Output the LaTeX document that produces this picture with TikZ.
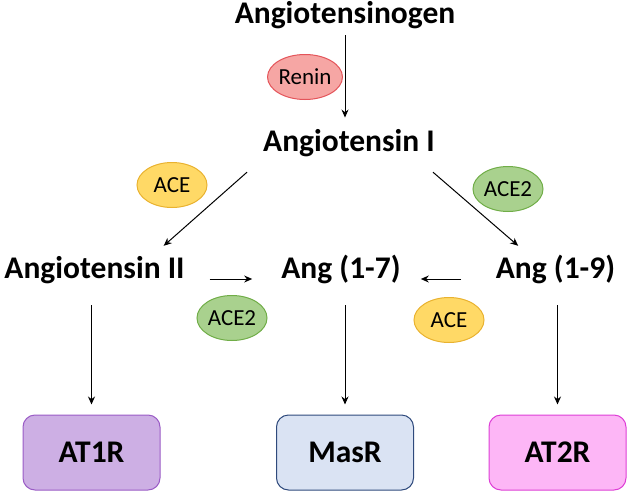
\documentclass[tikz,border=0pt]{standalone}
\usepackage{fontspec}
\setmainfont{Carlito}
\usetikzlibrary{shapes.geometric,arrows.meta}

\definecolor{reninfill}{HTML}{F6A6A4}
\definecolor{reninline}{HTML}{E4545A}
\definecolor{acefill}{HTML}{FFD966}
\definecolor{aceline}{HTML}{E9B22F}
\definecolor{acetwofill}{HTML}{A9D18E}
\definecolor{acetwoline}{HTML}{70AD47}
\definecolor{atonefill}{HTML}{CDAFE4}
\definecolor{atoneline}{HTML}{9A5CC6}
\definecolor{masfill}{HTML}{DAE3F3}
\definecolor{masline}{HTML}{2F4A7C}
\definecolor{attwofill}{HTML}{FDB6F6}
\definecolor{attwoline}{HTML}{DE3FD6}

\begin{document}
\begin{tikzpicture}[x=1pt,y=-1pt]
\tikzstyle{mol}=[font=\bfseries\fontsize{31.5}{38}\selectfont,inner sep=0pt,text height=21pt,text depth=7.5pt]
\tikzstyle{enz}=[ellipse,draw,line width=1pt,minimum width=70pt,minimum height=45pt,inner sep=0pt,font=\fontsize{23}{28}\selectfont]
\tikzstyle{renin}=[fill=reninfill,draw=reninline]
\tikzstyle{ace}=[fill=acefill,draw=aceline]
\tikzstyle{acetwo}=[fill=acetwofill,draw=acetwoline]
\tikzstyle{rec}=[draw,rounded corners=12pt,line width=1pt,minimum width=137pt,minimum height=75pt,font=\bfseries\fontsize{31.5}{38}\selectfont]
\tikzstyle{arr}=[-{Stealth[length=8pt,width=7pt]},line width=1pt]
\useasboundingbox (0,0) rectangle (630,493);
% peptides
\foreach \name/\point/\txt in {
	agen/{345,17}/Angiotensinogen,
	ang1/{349,145}/{Angiotensin I},
	ang2/{94.5,272}/{Angiotensin II},
	a17/{341,272}/{Ang (1-7)},
	a19/{555.5,272}/{Ang (1-9)}}
	\node[mol] (\name) at (\point) {\txt};
% enzymes
\foreach \name/\point/\kind/\txt in {
	reninE/{305,77}/renin/Renin,
	aceL/{172,185}/ace/ACE,
	acetwoR/{508,189}/acetwo/ACE2,
	acetwoM/{232,318}/acetwo/ACE2,
	aceM/{449,320}/ace/ACE}
	\node[enz,\kind] (\name) at (\point) {\txt};
% receptors
\node[rec,fill=atonefill,draw=atoneline] (at1r) at (91.5,452.5) {AT1R};
\node[rec,fill=masfill,draw=masline] (masr) at (345,452.5) {MasR};
\node[rec,fill=attwofill,draw=attwoline] (at2r) at (557.5,452.5) {AT2R};
% conversions
\draw[arr,shorten <=4pt,shorten >=13pt] (agen.south) -- (agen.south |- ang1.north);
\draw[arr] ([xshift=-16pt,yshift=-12.75pt]ang1.south west) -- ([xshift=-21pt,yshift=11.75pt]ang2.north east);
\draw[arr] ([xshift=-2pt,yshift=-12.75pt]ang1.south east) -- ([xshift=22.5pt,yshift=11.75pt]a19.north west);
\draw[arr] ([xshift=25pt,yshift=-7pt]ang2.east) -- ([xshift=-29pt,yshift=-7pt]a17.west);
\draw[arr] ([xshift=-34.5pt,yshift=-7pt]a19.west) -- ([xshift=20pt,yshift=-7pt]a17.east);
\foreach \a/\b in {ang2/at1r,a17/masr,a19/at2r}
	\draw[arr,shorten <=18.75pt,shorten >=10pt] (\a.south -| \b) -- (\b.north);
\end{tikzpicture}
\end{document}
